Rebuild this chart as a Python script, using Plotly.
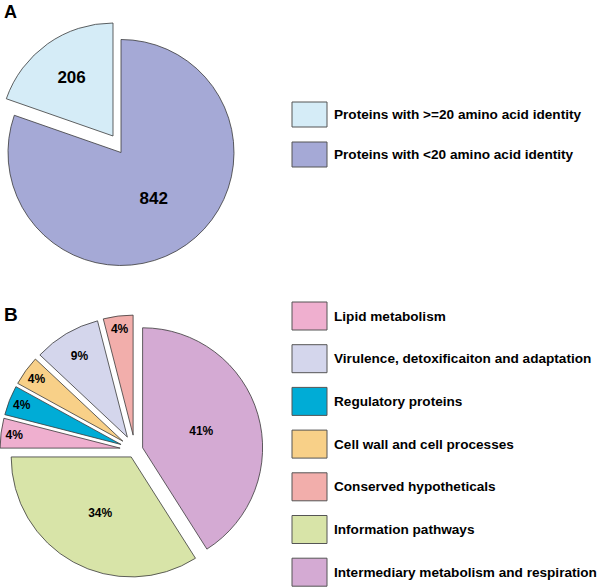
import plotly.graph_objects as go

W, H = 600, 587

# ---- data (slices listed clockwise from 12 o'clock) ----
a_labels = ["Proteins with <20 amino acid identity", "Proteins with >=20 amino acid identity"]
a_values = [842, 206]
a_colors = ["#a5a9d6", "#d5ecf7"]

b_labels = ["Intermediary metabolism and respiration", "Information pathways",
            "Lipid metabolism", "Regulatory proteins", "Cell wall and cell processes",
            "Virulence, detoxificaiton and adaptation", "Conserved hypotheticals"]
b_values = [41, 34, 4, 4, 4, 9, 4]
b_colors = ["#d4aad3", "#d8e4a8", "#efafcf", "#00acd6", "#f8d088", "#d4d6ec", "#f2aeab"]
b_pull = [0.066, 0.066, 0.125, 0.125, 0.125, 0.125, 0.125]

a_legend_order = ["Proteins with >=20 amino acid identity", "Proteins with <20 amino acid identity"]
b_legend_order = ["Lipid metabolism", "Virulence, detoxificaiton and adaptation",
                  "Regulatory proteins", "Cell wall and cell processes",
                  "Conserved hypotheticals", "Information pathways",
                  "Intermediary metabolism and respiration"]

EDGE = "#3a3a3a"
FONT = "Liberation Sans"
DIRECTION = "clockwise"


def px_dom_x(x0, x1):
    return [x0 / W, x1 / W]


def px_dom_y(y0, y1):
    return [1 - y1 / H, 1 - y0 / H]


fig = go.Figure()

# Pie A: exploded small slice (drawn as its own layer)
fig.add_trace(go.Pie(
    values=a_values, labels=a_labels, sort=False, direction=DIRECTION,
    marker=dict(colors=["rgba(0,0,0,0)", a_colors[1]],
                line=dict(color=EDGE, width=[0, 0.8])),
    texttemplate=["", "%{value}"], textposition="inside",
    insidetextorientation="horizontal",
    insidetextfont=dict(family=FONT, size=17, color="black", weight="bold"),
    domain=dict(x=px_dom_x(0, 226), y=px_dom_y(23, 249)),
    showlegend=False, hoverinfo="skip",
))
# Pie A: main slice
fig.add_trace(go.Pie(
    values=a_values, labels=a_labels, sort=False, direction=DIRECTION,
    marker=dict(colors=[a_colors[0], "rgba(0,0,0,0)"],
                line=dict(color=EDGE, width=[0.8, 0])),
    texttemplate=["%{value}", ""], textposition="inside",
    insidetextorientation="horizontal",
    insidetextfont=dict(family=FONT, size=17, color="black", weight="bold"),
    domain=dict(x=px_dom_x(8, 234), y=px_dom_y(39.5, 265.5)),
    showlegend=False, hoverinfo="skip",
))

# Pie B
fig.add_trace(go.Pie(
    values=b_values, labels=b_labels, sort=False, direction=DIRECTION,
    pull=b_pull,
    marker=dict(colors=b_colors, line=dict(color=EDGE, width=0.8)),
    texttemplate="%{value}%", textposition="inside",
    insidetextorientation="horizontal",
    insidetextfont=dict(family=FONT, size=12, color="black", weight="bold"),
    domain=dict(x=px_dom_x(0, 270), y=px_dom_y(315, 585)),
    showlegend=False, hoverinfo="skip",
))

shapes = []
annotations = []


def legend_item(label, color, top, h=26):
    shapes.append(dict(type="rect", xref="paper", yref="paper",
                       x0=292 / W, x1=327 / W, y0=1 - (top + h) / H, y1=1 - top / H,
                       fillcolor=color, line=dict(color="#555555", width=1)))
    annotations.append(dict(xref="paper", yref="paper", x=332 / W, y=1 - (top + h / 2) / H,
                            xanchor="left", yanchor="middle", showarrow=False,
                            text=label, font=dict(family=FONT, size=13.6, color="black", weight="bold")))


amap = dict(zip(a_labels, a_colors))
for i, lab in enumerate(a_legend_order):
    legend_item(lab, amap[lab], 102 + i * 40, 25)

bmap = dict(zip(b_labels, b_colors))
for i, lab in enumerate(b_legend_order):
    legend_item(lab, bmap[lab], 302 + i * 42.7, 28)

annotations.append(dict(xref="paper", yref="paper", x=2 / W, y=1 - 12 / H, xanchor="left",
                        yanchor="middle", showarrow=False, text="A",
                        font=dict(family=FONT, size=18, color="black", weight="bold")))
annotations.append(dict(xref="paper", yref="paper", x=2 / W, y=1 - 314.5 / H, xanchor="left",
                        yanchor="middle", showarrow=False, text="B",
                        font=dict(family=FONT, size=19, color="black", weight="bold")))

fig.update_layout(width=W, height=H, margin=dict(l=0, r=0, t=0, b=0),
                  paper_bgcolor="white", plot_bgcolor="white",
                  shapes=shapes, annotations=annotations)

fig.write_html("out.html", config={"displayModeBar": False},
               post_script="document.body.style.margin='0';document.body.style.overflow='hidden';")
